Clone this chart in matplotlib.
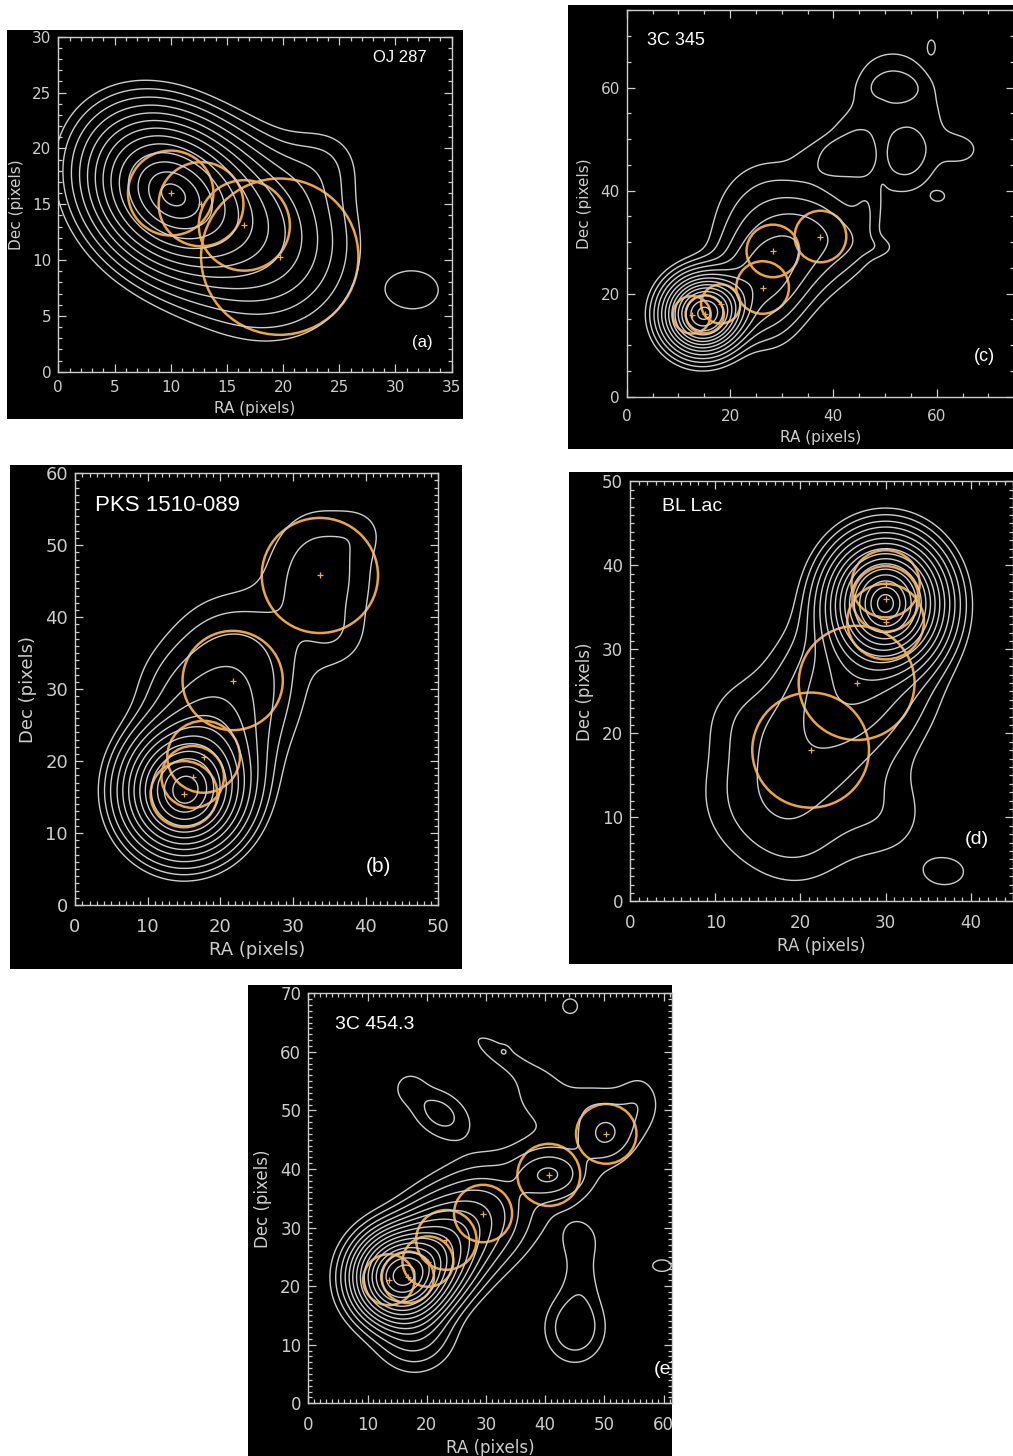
import numpy as np
import matplotlib
matplotlib.use("Agg")
import matplotlib.pyplot as plt
from matplotlib.patches import Circle, Rectangle
from matplotlib.ticker import MultipleLocator

W, H = 1013, 1456
GRAY = "#cdcdcd"
ORANGE = "#eba446"

# ---------------- (a) OJ 287 ----------------
a_comp_x = [9.4, 12.7, 16.5, 19.7, 24.0, 31.7]
a_comp_y = [16.3, 15.0, 13.1, 10.3, 19.0, 7.3]
a_comp_amp = [0.86, 0.10, 0.2, 0.13, 0.05, 0.075]
a_comp_sx = [4.6, 4.0, 4.8, 4.8, 2.5, 2.1]
a_comp_sy = [3.8, 4.0, 4.8, 5.0, 2.5, 1.6]
a_comp_pa = [-45, 0, 0, 0, 0, 0]
a_comp_pw = [1, 1, 1, 1, 1, 2]
a_levels = [0.06, 0.09, 0.13, 0.18, 0.24, 0.31, 0.39, 0.48, 0.58, 0.69, 0.80, 0.90, 0.98]
a_circ_x = [10.0, 12.7, 16.55, 19.7]
a_circ_y = [16.0, 15.0, 13.1, 10.3]
a_circ_r = [3.8, 3.77, 4.05, 7.0]

# ---------------- (b) PKS 1510-089 ----------------
b_comp_x = [15.0, 17.0, 19.0, 21.7, 14.0, 33.7, 36.0, 39.5]
b_comp_y = [15.6, 19.5, 25.0, 31.2, 30.0, 45.8, 37.0, 52.0]
b_comp_amp = [0.85, 0.15, 0.04, 0.06, 0.015, 0.03, 0.01, 0.008]
b_comp_sx = [4.0, 4.5, 4.0, 5.5, 4.0, 5.0, 3.0, 2.5]
b_comp_sy = [4.2, 4.5, 4.0, 6.5, 4.0, 6.5, 3.0, 2.5]
b_comp_pa = [0, 0, 0, 0, 0, 0, 0, 0]
b_comp_pw = [1, 1, 1, 1, 1, 1, 1, 1]
b_levels = [0.012, 0.022, 0.038, 0.065, 0.10, 0.15, 0.21, 0.29, 0.38, 0.49, 0.61, 0.74, 0.87, 0.97]
b_circ_x = [15.0, 16.2, 17.7, 21.7, 33.7]
b_circ_y = [15.4, 17.8, 20.6, 31.2, 45.8]
b_circ_r = [4.6, 4.3, 5.0, 6.9, 8.0]

# ---------------- (c) 3C 345 ----------------
# core + jet, then the diffuse lobe to the north-east
c_comp_x = [14.6, 18.5, 26.0, 29.0, 37.0, 28.0, 43.0, 27.0, 49.0,
            52.0, 40.0, 46.5, 65.0, 43.5, 54.3, 52.0, 49.3, 60.3, 59.0, 51.0]
c_comp_y = [16.0, 18.0, 22.0, 28.0, 31.0, 36.0, 30.0, 14.0, 29.0,
            53.0, 46.0, 36.5, 48.0, 48.0, 47.0, 59.8, 48.0, 38.9, 68.0, 63.0]
c_comp_amp = [0.85, 0.15, 0.07, 0.05, 0.035, 0.018, 0.01, 0.01, 0.008,
              0.011, 0.010, 0.010, 0.010, 0.009, 0.009, 0.009, -0.006, 0.011, 0.011, 0.005]
c_comp_sx = [3.6, 3.5, 5.0, 5.5, 5.5, 7.0, 3.0, 4.0, 2.5,
             8.0, 5.0, 2.0, 3.0, 4.5, 3.5, 3.8, 1.0, 1.3, 0.7, 4.0]
c_comp_sy = [3.6, 3.5, 5.0, 5.5, 5.5, 7.0, 3.0, 4.0, 1.5,
             10.5, 3.0, 4.0, 2.5, 4.0, 4.5, 2.2, 5.0, 1.0, 1.3, 3.0]
c_comp_pa = [0] * 20
c_comp_pw = [1, 1, 1, 1, 1, 1, 1, 1, 1,
             2, 1.5, 1, 1, 1.5, 1.5, 1.5, 1, 1, 1, 1]
c_levels = [0.008, 0.016, 0.03, 0.05, 0.08, 0.12, 0.17, 0.23, 0.30, 0.38, 0.48, 0.60, 0.74, 0.88, 0.98]
c_circ_x = [12.6, 15.1, 18.2, 26.3, 28.3, 37.5]
c_circ_y = [15.9, 16.0, 18.0, 21.2, 28.3, 31.1]
c_circ_r = [3.65, 3.7, 3.8, 5.1, 5.1, 5.0]

# ---------------- (d) BL Lac ----------------
d_comp_x = [30.0, 30.0, 26.6, 21.2, 15.0, 20.0, 30.0, 13.0, 37.0]
d_comp_y = [36.0, 33.3, 26.0, 18.0, 12.0, 7.0, 10.0, 22.0, 3.5]
d_comp_amp = [0.85, 0.2, 0.08, 0.04, 0.02, 0.015, 0.015, 0.01, 0.018]
d_comp_sx = [3.4, 3.5, 5.0, 5.5, 5.0, 4.5, 4.0, 3.5, 2.3]
d_comp_sy = [3.7, 3.5, 5.0, 5.5, 5.0, 4.5, 4.0, 3.5, 1.6]
d_comp_pa = [0] * 9
d_comp_pw = [1] * 9
d_levels = [0.012, 0.022, 0.038, 0.06, 0.09, 0.13, 0.18, 0.24, 0.31, 0.39, 0.48, 0.58, 0.69, 0.80, 0.90, 0.98]
d_circ_x = [30.0, 30.0, 30.0, 26.6, 21.2]
d_circ_y = [37.8, 36.0, 33.3, 26.0, 18.0]
d_circ_r = [4.0, 3.9, 4.5, 6.8, 6.85]

# ---------------- (e) 3C 454.3 ----------------
e_comp_x = [15.5, 20.2, 23.3, 29.5, 40.6, 50.3, 42.0, 18.0,
            22.2, 17.0, 32.5, 38.5, 33.1, 56.0, 48.0,
            45.0, 46.0, 46.0, 59.7, 44.2]
e_comp_y = [21.5, 24.2, 27.9, 32.4, 39.0, 46.0, 42.0, 12.0,
            49.5, 54.0, 59.5, 54.0, 60.2, 51.0, 51.5,
            12.8, 21.0, 28.0, 23.5, 67.8]
e_comp_amp = [0.8, 0.2, 0.12, 0.06, 0.047, 0.032, 0.012, 0.04,
              0.025, 0.012, 0.015, 0.010, 0.008, 0.013, 0.010,
              0.032, 0.012, 0.01, 0.016, 0.014]
e_comp_sx = [4.0, 4.0, 4.5, 5.0, 3.5, 3.0, 7.0, 4.0,
             3.8, 2.0, 5.0, 3.0, 0.6, 2.5, 6.0,
             3.3, 2.5, 3.0, 1.6, 1.5]
e_comp_sy = [4.0, 4.0, 4.5, 5.0, 2.5, 3.0, 7.0, 4.0,
             2.6, 2.0, 1.6, 3.0, 0.6, 4.0, 2.8,
             3.8, 4.0, 3.0, 1.0, 1.5]
e_comp_pa = [0, 0, 0, 0, 0, 0, 0, 0,
             -35, 0, -35, 0, 0, 0, 0,
             0, 0, 0, 0, 0]
e_comp_pw = [1] * 20
e_levels = [0.01, 0.02, 0.035, 0.055, 0.08, 0.11, 0.15, 0.20, 0.26, 0.33, 0.41, 0.50, 0.60, 0.71, 0.83, 0.95]
e_circ_x = [13.6, 16.8, 20.2, 23.3, 29.5, 40.6, 50.3]
e_circ_y = [21.1, 21.5, 24.2, 27.9, 32.4, 39.0, 46.0]
e_circ_r = [4.35, 4.4, 4.3, 5.1, 4.9, 5.3, 5.1]


def field(xx, yy, cx, cy, amp, sx, sy, pa, pw):
    z = np.zeros_like(xx)
    for x0, y0, a, s1, s2, t, p in zip(cx, cy, amp, sx, sy, pa, pw):
        t = np.radians(t)
        dx, dy = xx - x0, yy - y0
        u = dx * np.cos(t) + dy * np.sin(t)
        v = -dx * np.sin(t) + dy * np.cos(t)
        q = 0.5 * ((u / s1) ** 2 + (v / s2) ** 2)
        z += a * np.exp(-q ** p)
    return z


def px_rect(x0, y0, x1, y1):
    return [x0 / W, 1 - y1 / H, (x1 - x0) / W, (y1 - y0) / H]


fig = plt.figure(figsize=(W / 100, H / 100), dpi=100, facecolor="white")

# black backgrounds of the five images
for x0, y0, x1, y1 in [(7, 30, 463, 419), (568, 5, 1013, 449), (10, 465, 462, 969),
                       (569, 472, 1013, 964), (248, 985, 672, 1456)]:
    b = px_rect(x0, y0, x1, y1)
    fig.add_artist(Rectangle((b[0], b[1]), b[2], b[3], transform=fig.transFigure,
                             fc="black", ec="none", zorder=0))


def panel(box, xlim, ylim, xmaj, xmin, ymaj, ymin, fs, pad, comps, levels, circ,
          name, name_xy, name_fs, tag, tag_xy, tag_fs):
    ax = fig.add_axes(px_rect(*box))
    ax.set_facecolor("black")
    xs = np.arange(xlim[0] - 3, xlim[1] + 3, 0.2)
    ys = np.arange(ylim[0] - 3, ylim[1] + 3, 0.2)
    xx, yy = np.meshgrid(xs, ys)
    zz = field(xx, yy, *comps)
    ax.contour(xx, yy, zz, levels=levels, colors=GRAY, linewidths=1.0)
    for x0, y0, r in zip(*circ):
        ax.add_patch(Circle((x0, y0), r, fc="none", ec=ORANGE, lw=1.8))
    ax.plot(circ[0], circ[1], "+", color="#f0a860", ms=5, mew=0.9)
    ax.set_xlim(*xlim)
    ax.set_ylim(*ylim)
    ax.xaxis.set_major_locator(MultipleLocator(xmaj))
    ax.xaxis.set_minor_locator(MultipleLocator(xmin))
    ax.yaxis.set_major_locator(MultipleLocator(ymaj))
    ax.yaxis.set_minor_locator(MultipleLocator(ymin))
    ax.tick_params(which="both", direction="in", top=True, right=True,
                   colors=GRAY, labelcolor=GRAY, labelsize=fs, width=0.9)
    ax.tick_params(which="major", length=6)
    ax.tick_params(which="minor", length=3)
    ax.tick_params(axis="x", which="major", pad=pad)
    ax.tick_params(axis="y", which="major", pad=5)
    for s in ax.spines.values():
        s.set_color(GRAY)
        s.set_linewidth(1.0)
    ax.set_xlabel("RA (pixels)", color=GRAY, fontsize=fs, labelpad=4)
    ax.set_ylabel("Dec (pixels)", color=GRAY, fontsize=fs, labelpad=6)
    ax.text(*name_xy, name, color="white", fontsize=name_fs, family="Liberation Sans",
            ha="left", va="center")
    ax.text(*tag_xy, tag, color="white", fontsize=tag_fs, family="Liberation Sans",
            ha="center", va="center", clip_on=True)
    return ax


panel((58.3, 36.7, 451.7, 371.7), (0, 35), (0, 30), 5, 1, 5, 1, 11, 6,
      (a_comp_x, a_comp_y, a_comp_amp, a_comp_sx, a_comp_sy, a_comp_pa, a_comp_pw),
      a_levels, (a_circ_x, a_circ_y, a_circ_r),
      "OJ 287", (28.0, 28.1), 12, "(a)", (32.4, 2.6), 12)

panel((626.7, 10.4, 1014.2, 396.7), (0, 75), (0, 75), 20, 5, 20, 5, 11, 9,
      (c_comp_x, c_comp_y, c_comp_amp, c_comp_sx, c_comp_sy, c_comp_pa, c_comp_pw),
      c_levels, (c_circ_x, c_circ_y, c_circ_r),
      "3C 345", (3.9, 69.2), 13, "(c)", (69.3, 7.9), 13)

panel((75.0, 473.3, 438.3, 905.0), (0, 50), (0, 60), 10, 1, 10, 1, 13, 9,
      (b_comp_x, b_comp_y, b_comp_amp, b_comp_sx, b_comp_sy, b_comp_pa, b_comp_pw),
      b_levels, (b_circ_x, b_circ_y, b_circ_r),
      "PKS 1510-089", (2.75, 55.5), 16, "(b)", (41.8, 5.3), 15)

panel((630.0, 481.3, 1013.4, 901.3), (0, 45), (0, 50), 10, 1, 10, 1, 12, 9,
      (d_comp_x, d_comp_y, d_comp_amp, d_comp_sx, d_comp_sy, d_comp_pa, d_comp_pw),
      d_levels, (d_circ_x, d_circ_y, d_circ_r),
      "BL Lac", (3.7, 47.0), 14, "(d)", (40.7, 7.3), 14)

panel((308.3, 993.3, 672.0, 1403.3), (0, 61.4), (0, 70), 10, 1, 10, 1, 12, 9,
      (e_comp_x, e_comp_y, e_comp_amp, e_comp_sx, e_comp_sy, e_comp_pa, e_comp_pw),
      e_levels, (e_circ_x, e_circ_y, e_circ_r),
      "3C 454.3", (4.5, 64.7), 14, "(e)", (60.4, 5.7), 14)

fig.savefig("out.png", dpi=100, facecolor="white")
